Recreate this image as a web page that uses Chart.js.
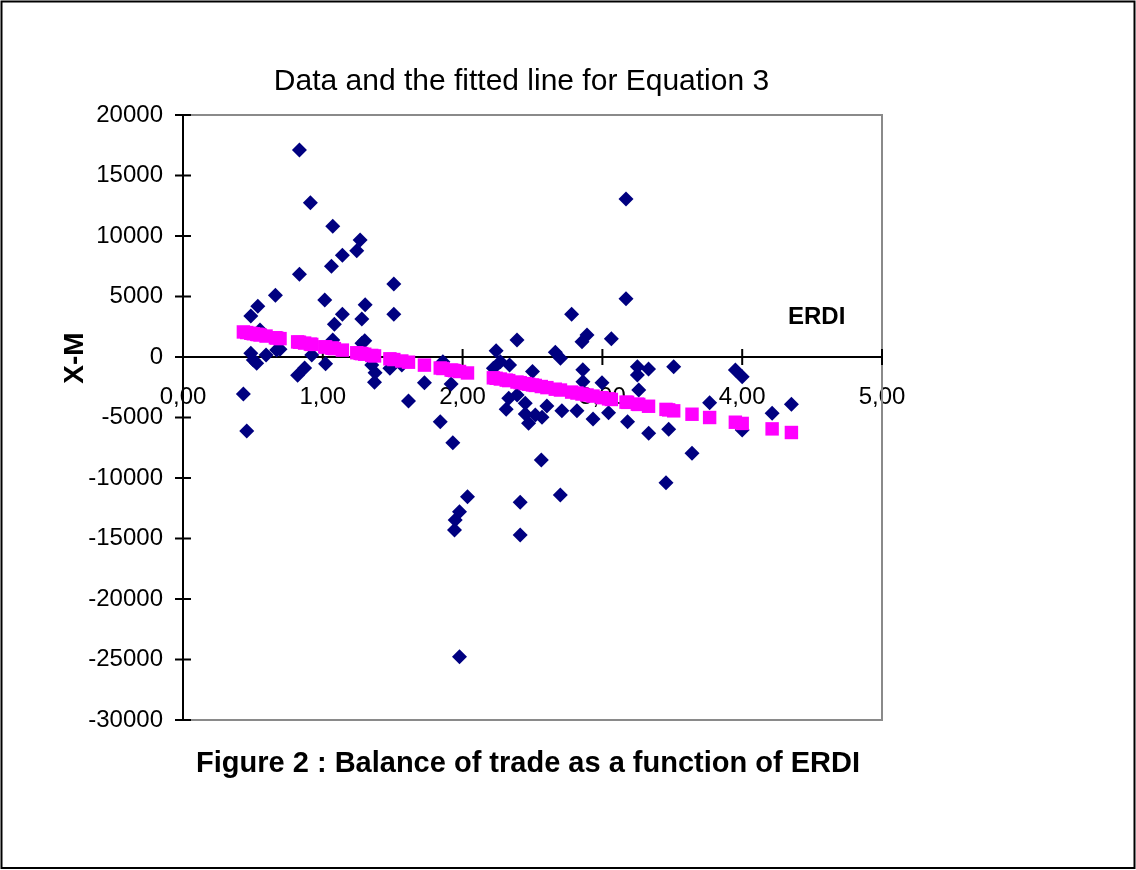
<!DOCTYPE html>
<html><head><meta charset="utf-8">
<script src="https://cdn.jsdelivr.net/npm/chart.js@4.4.1/dist/chart.umd.min.js"></script>
<style>html,body{margin:0;padding:0;background:#fff;} canvas{display:block;}</style>
</head><body>
<canvas id="c" width="1136" height="870"></canvas>
<script>
// ---- data ----
const erdiX = [0.432,0.456,0.485,0.485,0.503,0.527,0.535,0.551,0.594,0.661,0.67,0.694,0.82,0.833,0.833,0.87,0.911,0.921,1.014,1.02,1.062,1.071,1.071,1.083,1.14,1.14,1.243,1.267,1.279,1.28,1.30,1.303,1.35,1.37,1.374,1.48,1.508,1.508,1.565,1.613,1.727,1.84,1.859,1.918,1.93,1.942,1.947,1.978,1.978,2.035,2.22,2.24,2.27,2.312,2.33,2.336,2.389,2.39,2.412,2.412,2.448,2.448,2.472,2.50,2.52,2.563,2.568,2.603,2.663,2.699,2.70,2.71,2.78,2.818,2.854,2.86,2.861,2.89,2.933,2.997,3.044,3.064,3.169,3.169,3.18,3.25,3.25,3.26,3.33,3.331,3.455,3.474,3.51,3.641,3.767,3.951,4.0,4.0,4.214,4.352];
const balanceY = [-3060,-6120,3390,300,-250,-520,4190,2230,165,5100,580,640,-1500,17100,6830,-900,12750,165,4710,-560,7500,10800,1400,2700,8400,3530,8790,9670,3140,1130,1350,4320,-660,-2090,-1300,-940,6030,3530,-660,-3640,-2120,-5350,-390,-2230,-7080,-14300,-13470,-12790,-24770,-11550,-940,520,-390,-4320,-3410,-660,1400,-3140,-12010,-14710,-3830,-4710,-5480,-1200,-4790,-8510,-4980,-4050,390,-11400,-110,-4440,3530,-4440,1270,-1050,-2040,1820,-5120,-2120,-4600,1510,13060,4820,-5350,-800,-1490,-2730,-1000,-6310,-10390,-5980,-800,-7960,-3780,-1070,-1630,-6030,-4650,-3910];
const fitX = [0.432,0.456,0.485,0.503,0.527,0.535,0.551,0.594,0.661,0.67,0.694,0.82,0.833,0.87,0.911,0.921,1.014,1.02,1.062,1.071,1.083,1.14,1.243,1.267,1.279,1.30,1.35,1.37,1.48,1.508,1.565,1.613,1.727,1.84,1.859,1.918,1.93,1.942,1.978,2.035,2.22,2.24,2.27,2.312,2.33,2.389,2.412,2.448,2.472,2.50,2.52,2.563,2.603,2.663,2.70,2.78,2.818,2.854,2.89,2.933,2.997,3.044,3.064,3.169,3.18,3.25,3.26,3.33,3.455,3.474,3.51,3.641,3.767,3.951,4.0,4.214,4.352];
const fitY = [2070,2020,1960,1920,1870,1860,1820,1730,1590,1570,1520,1250,1220,1150,1060,1040,840,830,740,720,690,570,350,300,280,230,130,90,-150,-210,-330,-430,-670,-910,-950,-1080,-1100,-1130,-1200,-1320,-1720,-1760,-1820,-1910,-1950,-2070,-2120,-2200,-2250,-2310,-2350,-2440,-2530,-2660,-2730,-2900,-2980,-3060,-3140,-3230,-3360,-3460,-3510,-3730,-3750,-3900,-3920,-4070,-4330,-4370,-4450,-4730,-5000,-5390,-5490,-5940,-6240];
const xTickValues = [0,1,2,3,4,5];
const xTickLabels = ['0,00','1,00','2,00','3,00','4,00','5,00'];
const yTickValues = [-30000,-25000,-20000,-15000,-10000,-5000,0,5000,10000,15000,20000];
const yTickLabels = ['-30000','-25000','-20000','-15000','-10000','-5000','0','5000','10000','15000','20000'];
const chartTitle = 'Data and the fitted line for Equation 3';
const figureCaption = 'Figure 2 : Balance of trade as a function of ERDI';
const yAxisTitle = 'X-M';
const xAxisTitle = 'ERDI';

const FONT = '"Liberation Sans", Arial, Helvetica, sans-serif';

const decor = {
  id: 'decor',
  beforeDatasetsDraw(chart) {
    const {ctx, chartArea: a, scales: {x, y}} = chart;
    ctx.save();
    ctx.strokeStyle = '#8a8a8a'; ctx.lineWidth = 2;
    ctx.beginPath();
    ctx.moveTo(a.left, a.top); ctx.lineTo(a.right, a.top); ctx.lineTo(a.right, a.bottom); ctx.lineTo(a.left, a.bottom);
    ctx.stroke();
    const y0 = y.getPixelForValue(0);
    const x0 = x.getPixelForValue(0);
    ctx.strokeStyle = '#000'; ctx.lineWidth = 2;
    ctx.beginPath();
    ctx.moveTo(x0, a.top); ctx.lineTo(x0, a.bottom);
    ctx.moveTo(a.left, y0); ctx.lineTo(a.right, y0);
    y.ticks.forEach(t => { const py = y.getPixelForValue(t.value); ctx.moveTo(x0 - 8, py); ctx.lineTo(x0 + 8, py); });
    x.ticks.forEach(t => { const px = x.getPixelForValue(t.value); ctx.moveTo(px, y0 - 8); ctx.lineTo(px, y0 + 8); });
    ctx.stroke();
    ctx.restore();
  },
  afterDraw(chart) {
    const {ctx} = chart;
    ctx.save();
    ctx.fillStyle = '#000';
    ctx.textBaseline = 'alphabetic';
    ctx.textAlign = 'center';
    ctx.font = '30px ' + FONT;
    ctx.fillText(chartTitle, 521.5, 90);
    ctx.font = 'bold 29px ' + FONT;
    ctx.fillText(figureCaption, 528, 772);
    ctx.textAlign = 'left';
    ctx.font = 'bold 24px ' + FONT;
    ctx.fillText(xAxisTitle, 788, 324);
    ctx.save();
    ctx.translate(75, 358);
    ctx.rotate(-Math.PI / 2);
    ctx.textAlign = 'center';
    ctx.textBaseline = 'middle';
    ctx.font = 'bold 28px ' + FONT;
    ctx.fillText(yAxisTitle, 0, 0);
    ctx.restore();
    ctx.strokeStyle = '#000'; ctx.lineWidth = 2;
    ctx.strokeRect(1.5, 1.5, 1133, 866.5);
    ctx.restore();
  }
};

new Chart(document.getElementById('c'), {
  type: 'scatter',
  data: {
    datasets: [
      { label: 'Data', order: 1,
        data: erdiX.map((v, i) => ({x: v, y: balanceY[i]})),
        pointStyle: 'rectRot', pointRadius: 7.5, borderWidth: 0,
        backgroundColor: '#000080', borderColor: '#000080' },
      { label: 'Fitted', order: 0,
        data: fitX.map((v, i) => ({x: v, y: fitY[i]})),
        pointStyle: 'rect', pointRadius: 9.5, borderWidth: 0,
        backgroundColor: '#ff00ff', borderColor: '#ff00ff' }
    ]
  },
  options: {
    responsive: false, animation: false, devicePixelRatio: 1,
    layout: { padding: { left: 83, right: 254, top: 115, bottom: 150 } },
    plugins: { legend: { display: false }, tooltip: { enabled: false }, title: { display: false } },
    scales: {
      x: {
        type: 'linear', min: 0, max: 5, position: { y: 0 },
        grid: { display: false, drawTicks: false }, border: { display: false },
        afterBuildTicks: s => { s.ticks = xTickValues.map(v => ({value: v})); },
        ticks: { color: '#000', padding: 26, maxRotation: 0, autoSkip: false,
          font: { family: FONT, size: 24 },
          callback: (v, i) => xTickLabels[i] }
      },
      y: {
        type: 'linear', min: -30000, max: 20000,
        grid: { display: false, drawTicks: false }, border: { display: false },
        afterFit: s => { s.width = 100; },
        afterBuildTicks: s => { s.ticks = yTickValues.map(v => ({value: v})); },
        ticks: { color: '#000', padding: 20, autoSkip: false,
          font: { family: FONT, size: 24 },
          callback: (v, i) => yTickLabels[i] }
      }
    }
  },
  plugins: [decor]
});
</script>
</body></html>
